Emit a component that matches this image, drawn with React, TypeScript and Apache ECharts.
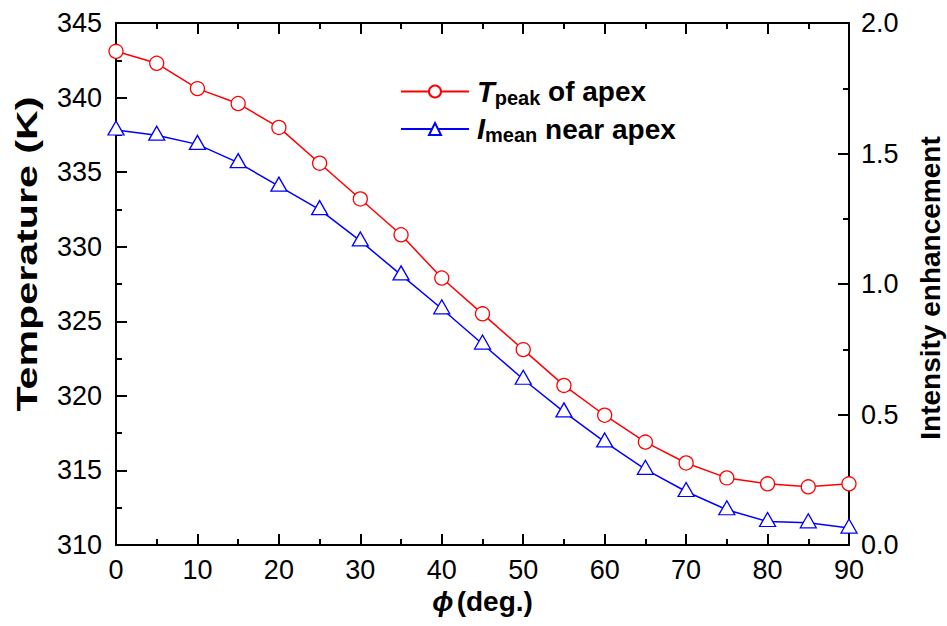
import React, { useEffect, useRef } from "react";
import * as echarts from "echarts";

const phi = [0, 5, 10, 15, 20, 25, 30, 35, 40, 45, 50, 55, 60, 65, 70, 75, 80, 85, 90];
const tPeak = [343.1, 342.3, 340.6, 339.6, 338.0, 335.6, 333.2, 330.8, 327.9, 325.5, 323.1, 320.7, 318.7, 316.9, 315.5, 314.5, 314.1, 313.9, 314.1];
const iMean = [1.59, 1.57, 1.535, 1.465, 1.375, 1.285, 1.165, 1.035, 0.905, 0.77, 0.635, 0.51, 0.395, 0.29, 0.205, 0.135, 0.09, 0.085, 0.065];
const seriesNames = ["Tpeak of apex", "Imean near apex"];
const leftTitle = "Temperature (K)";
const rightTitle = "Intensity enhancement";

const FONT = '"Liberation Sans", Arial, Helvetica, sans-serif';

export default function App() {
  const ref = useRef<HTMLDivElement>(null);
  useEffect(() => {
    document.body.style.margin = "0";
    const chart = echarts.init(ref.current!, null, { renderer: "svg" });
    const lineBlack = { color: "#000", width: 2 };
    const tickCommon = {
      axisLine: { show: true, onZero: false, lineStyle: lineBlack },
      axisTick: { show: true, inside: true, length: 11, lineStyle: lineBlack },
      minorTick: { show: true, splitNumber: 2, length: 6, lineStyle: lineBlack },
      splitLine: { show: false },
      minorSplitLine: { show: false },
    };
    chart.setOption({
      animation: false,
      backgroundColor: "#fff",
      grid: { left: 116, right: 98, top: 23, bottom: 81, containLabel: false },
      xAxis: [
        {
          type: "value",
          position: "bottom",
          min: 0,
          max: 90,
          interval: 10,
          ...tickCommon,
          axisLabel: { fontSize: 27, color: "#000", fontFamily: FONT, margin: 11 },
          name: "{i|ϕ} {b|(deg.)}",
          nameLocation: "middle",
          nameGap: 27,
          nameTextStyle: {
            rich: {
              i: { fontSize: 28, fontStyle: "italic", fontWeight: "bold", fontFamily: FONT, color: "#000" },
              b: { fontSize: 28, fontWeight: "bold", fontFamily: FONT, color: "#000" },
            },
          },
        },
        {
          type: "value",
          position: "top",
          min: 0,
          max: 90,
          interval: 10,
          ...tickCommon,
          axisLabel: { show: false },
        },
      ],
      yAxis: [
        {
          type: "value",
          position: "left",
          min: 310,
          max: 345,
          interval: 5,
          ...tickCommon,
          axisLabel: { fontSize: 27, color: "#000", fontFamily: FONT, margin: 14 },
        },
        {
          type: "value",
          position: "right",
          min: 0,
          max: 2,
          interval: 0.5,
          ...tickCommon,
          axisLabel: {
            fontSize: 27,
            color: "#000",
            fontFamily: FONT,
            margin: 12,
            formatter: (v: number) => v.toFixed(1),
          },
        },
      ],
      legend: {
        orient: "vertical",
        left: 400,
        top: 77,
        padding: 0,
        itemWidth: 68,
        itemHeight: 15,
        itemGap: 7,
        data: seriesNames,
        formatter: (name: string) =>
          name === seriesNames[0] ? "{it|T}{sub|peak}{b| of apex}" : "{it|I}{sub|mean}{b| near apex}",
        textStyle: {
          color: "#000",
          fontFamily: FONT,
          fontSize: 28,
          fontWeight: "bold",
          padding: [0, 0, 0, 3],
          rich: {
            it: { fontSize: 29, fontStyle: "italic", fontWeight: "bold", fontFamily: FONT, color: "#000", lineHeight: 32 },
            sub: { fontSize: 20, fontWeight: "bold", fontFamily: FONT, color: "#000", lineHeight: 32, verticalAlign: "bottom" },
            b: { fontSize: 28, fontWeight: "bold", fontFamily: FONT, color: "#000", lineHeight: 32 },
          },
        },
      },
      graphic: [
        {
          type: "text",
          x: 27,
          y: 254,
          rotation: Math.PI / 2,
          scaleX: 1.42,
          style: {
            text: leftTitle,
            fontSize: 29,
            fontWeight: "bold",
            fontFamily: FONT,
            fill: "#000",
            textAlign: "center",
            align: "center",
            textVerticalAlign: "middle",
            verticalAlign: "middle",
          },
        },
        {
          type: "text",
          x: 930,
          y: 288,
          rotation: Math.PI / 2,
          style: {
            text: rightTitle,
            fontSize: 28,
            fontWeight: "bold",
            fontFamily: FONT,
            fill: "#000",
            textAlign: "center",
            align: "center",
            textVerticalAlign: "middle",
            verticalAlign: "middle",
          },
        },
      ],
      series: [
        {
          name: seriesNames[0],
          type: "line",
          xAxisIndex: 0,
          yAxisIndex: 0,
          data: phi.map((x, i) => [x, tPeak[i]]),
          symbol: "circle",
          symbolSize: 14,
          color: "#ff0000",
          itemStyle: { color: "#fff", borderColor: "#ff0000", borderWidth: 1.3 },
          lineStyle: { color: "#ff0000", width: 1.5 },
          clip: true,
          z: 3,
        },
        {
          name: seriesNames[1],
          type: "line",
          xAxisIndex: 0,
          yAxisIndex: 1,
          data: phi.map((x, i) => [x, iMean[i]]),
          symbol: "triangle",
          symbolSize: [16, 14],
          symbolOffset: [0, -2],
          color: "#0000ff",
          itemStyle: { color: "#fff", borderColor: "#0000ff", borderWidth: 1.3 },
          lineStyle: { color: "#0000ff", width: 1.5 },
          clip: true,
          z: 3,
        },
      ],
    });
    return () => chart.dispose();
  }, []);
  return <div ref={ref} style={{ width: 947, height: 626 }} />;
}
